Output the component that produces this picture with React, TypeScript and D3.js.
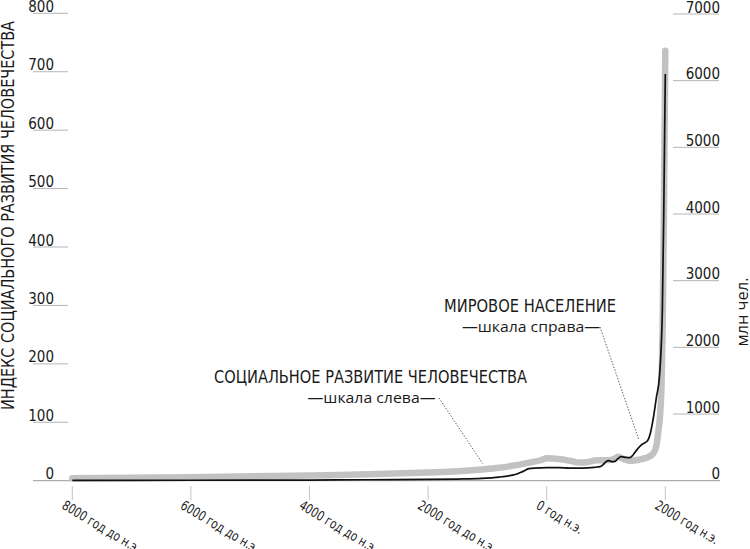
import React, { useEffect, useRef } from 'react';
import * as d3 from 'd3';

// social development index (left scale)
const devYears = [-8000, -6000, -4000, -3000, -2000, -1500, -1100, -800, -550, -300, -100, 0, 100, 200, 400, 550, 700, 850, 1000, 1100, 1150, 1200, 1300, 1400, 1500, 1600, 1700, 1800, 1850, 1880, 1910, 1935, 1955, 1975, 2000];
const devValues = [4, 6, 9, 11, 14, 16, 19, 22, 26, 31, 35, 38.5, 38, 37, 34, 31, 32, 35, 35, 36, 38, 41, 37, 34, 35, 37, 40, 47, 60, 82, 110, 160, 260, 440, 736];

// world population, millions (right scale)
const popYears = [-8000, -6000, -4000, -3000, -2000, -1500, -1100, -800, -600, -500, -400, -300, -200, 0, 200, 400, 600, 800, 900, 950, 1000, 1050, 1100, 1150, 1200, 1250, 1300, 1400, 1450, 1500, 1600, 1700, 1750, 1800, 1850, 1900, 1950, 1975, 2000];
const popValues = [5, 7, 10, 14, 20, 25, 35, 55, 80, 100, 140, 180, 190, 195, 195, 190, 190, 200, 210, 240, 285, 300, 285, 290, 330, 360, 355, 345, 380, 440, 540, 600, 720, 950, 1250, 1550, 2550, 4100, 6100];

const leftTicks = [0, 100, 200, 300, 400, 500, 600, 700, 800];
const rightTicks = [0, 1000, 2000, 3000, 4000, 5000, 6000, 7000];
const xTicks = [-8000, -6000, -4000, -2000, 0, 2000];
const xTickLabels = ['8000 год до н.э.', '6000 год до н.э.', '4000 год до н.э.', '2000 год до н.э.', '0 год н.э.', '2000 год н.э.'];

const narrow = "'Liberation Sans Narrow', 'DejaVu Sans Condensed', sans-serif";
const regular = "'Open Sans', 'Noto Sans', sans-serif";

const App: React.FC = () => {
  const svgRef = useRef<SVGSVGElement>(null);

  useEffect(() => {
    if (!svgRef.current) return;
    const svg = d3.select(svgRef.current);
    svg.selectAll('*').remove();

    const x = d3.scaleLinear().domain([-8000, 2000]).range([72.3, 665.3]);
    const yL = d3.scaleLinear().domain([0, 800]).range([480.7, 13.3]);
    const yR = d3.scaleLinear().domain([0, 7000]).range([480.7, 14]);

    const g = svg.append('g');

    // left scale
    leftTicks.forEach(t => {
      g.append('line').attr('x1', 33).attr('x2', t === 0 ? 720 : 68)
        .attr('y1', yL(t)).attr('y2', yL(t))
        .attr('stroke', t === 0 ? '#9a9a9a' : '#b5b5b5').attr('stroke-width', 1);
      g.append('text').attr('x', 54).attr('y', yL(t) - 1.5)
        .attr('text-anchor', 'end').attr('font-family', narrow).attr('font-size', 15)
        .attr('fill', '#1a1a1a').text(t);
    });

    // right scale
    rightTicks.forEach(t => {
      if (t !== 0) {
        g.append('line').attr('x1', 673).attr('x2', 719)
          .attr('y1', yR(t)).attr('y2', yR(t))
          .attr('stroke', '#b5b5b5').attr('stroke-width', 1);
      }
      g.append('text').attr('x', 720).attr('y', yR(t) - 1.5)
        .attr('text-anchor', 'end').attr('font-family', narrow).attr('font-size', 15)
        .attr('fill', '#1a1a1a').text(t);
    });

    // x ticks
    xTicks.forEach((t, i) => {
      g.append('line').attr('x1', x(t)).attr('x2', x(t)).attr('y1', 486).attr('y2', 500)
        .attr('stroke', '#c4c4c4').attr('stroke-width', 1);
      const txt = g.append('text')
        .attr('transform', `translate(${x(t) - 6},${499}) rotate(31)`)
        .attr('dominant-baseline', 'hanging')
        .attr('font-family', narrow).attr('font-size', 13.5).attr('fill', '#1a1a1a')
        .text(xTickLabels[i]);
      // squeeze to the narrow proportions of the reference lettering
      const w = (txt.node() as SVGTextElement).getComputedTextLength();
      txt.attr('textLength', w * 0.86).attr('lengthAdjust', 'spacingAndGlyphs');
    });

    // axis titles
    g.append('text')
      .attr('transform', `translate(14,${(21 + 410) / 2}) rotate(-90)`)
      .attr('text-anchor', 'middle').attr('font-family', narrow).attr('font-size', 18)
      .attr('fill', '#1a1a1a').attr('textLength', 389).attr('lengthAdjust', 'spacingAndGlyphs')
      .text('ИНДЕКС СОЦИАЛЬНОГО РАЗВИТИЯ ЧЕЛОВЕЧЕСТВА');
    g.append('text')
      .attr('transform', `translate(748,312) rotate(-90)`)
      .attr('text-anchor', 'middle').attr('font-family', regular).attr('font-size', 17)
      .attr('fill', '#1a1a1a').attr('textLength', 69).attr('lengthAdjust', 'spacingAndGlyphs')
      .text('млн чел.');

    // series
    const devData = devYears.map((yr, i) => ({ yr, v: devValues[i] }));
    const popData = popYears.map((yr, i) => ({ yr, v: popValues[i] }));

    const devLine = d3.line<{ yr: number; v: number }>().x(d => x(d.yr)).y(d => yL(d.v)).curve(d3.curveMonotoneX);
    const popLine = d3.line<{ yr: number; v: number }>().x(d => x(d.yr)).y(d => yR(d.v)).curve(d3.curveMonotoneX);

    g.append('path').attr('d', devLine(devData) as string)
      .attr('fill', 'none').attr('stroke', '#c2c2c2').attr('stroke-width', 6.5)
      .attr('stroke-linecap', 'round').attr('stroke-linejoin', 'round');
    g.append('path').attr('d', popLine(popData) as string)
      .attr('fill', 'none').attr('stroke', '#111').attr('stroke-width', 1.7);

    // annotations
    const dots = '1.4,1.6';
    g.append('line').attr('x1', 439).attr('y1', 398).attr('x2', x(-1080)).attr('y2', yL(19) - 6)
      .attr('stroke', '#333').attr('stroke-width', 0.8).attr('stroke-dasharray', dots);
    g.append('line').attr('x1', 600).attr('y1', 327).attr('x2', x(1550)).attr('y2', yR(490) - 9)
      .attr('stroke', '#333').attr('stroke-width', 0.8).attr('stroke-dasharray', dots);

    const label = (txt: string, cx: number, by: number, len: number, font: string, size: number) => {
      g.append('text').attr('x', cx).attr('y', by).attr('text-anchor', 'middle')
        .attr('font-family', font).attr('font-size', size).attr('fill', '#1a1a1a')
        .attr('textLength', len).attr('lengthAdjust', 'spacingAndGlyphs').text(txt);
    };
    label('МИРОВОЕ НАСЕЛЕНИЕ', 530, 311.7, 172, narrow, 17);
    label('—шкала справа—', 531, 332.3, 138, regular, 15);
    label('СОЦИАЛЬНОЕ РАЗВИТИЕ ЧЕЛОВЕЧЕСТВА', 370.5, 383, 313, narrow, 17.5);
    label('—шкала слева—', 371.5, 403.3, 128, regular, 15);
  }, []);

  return (
    <svg ref={svgRef} width={750} height={549}
      style={{ position: 'absolute', left: 0, top: 0, background: '#fff' }} />
  );
};

export default App;
